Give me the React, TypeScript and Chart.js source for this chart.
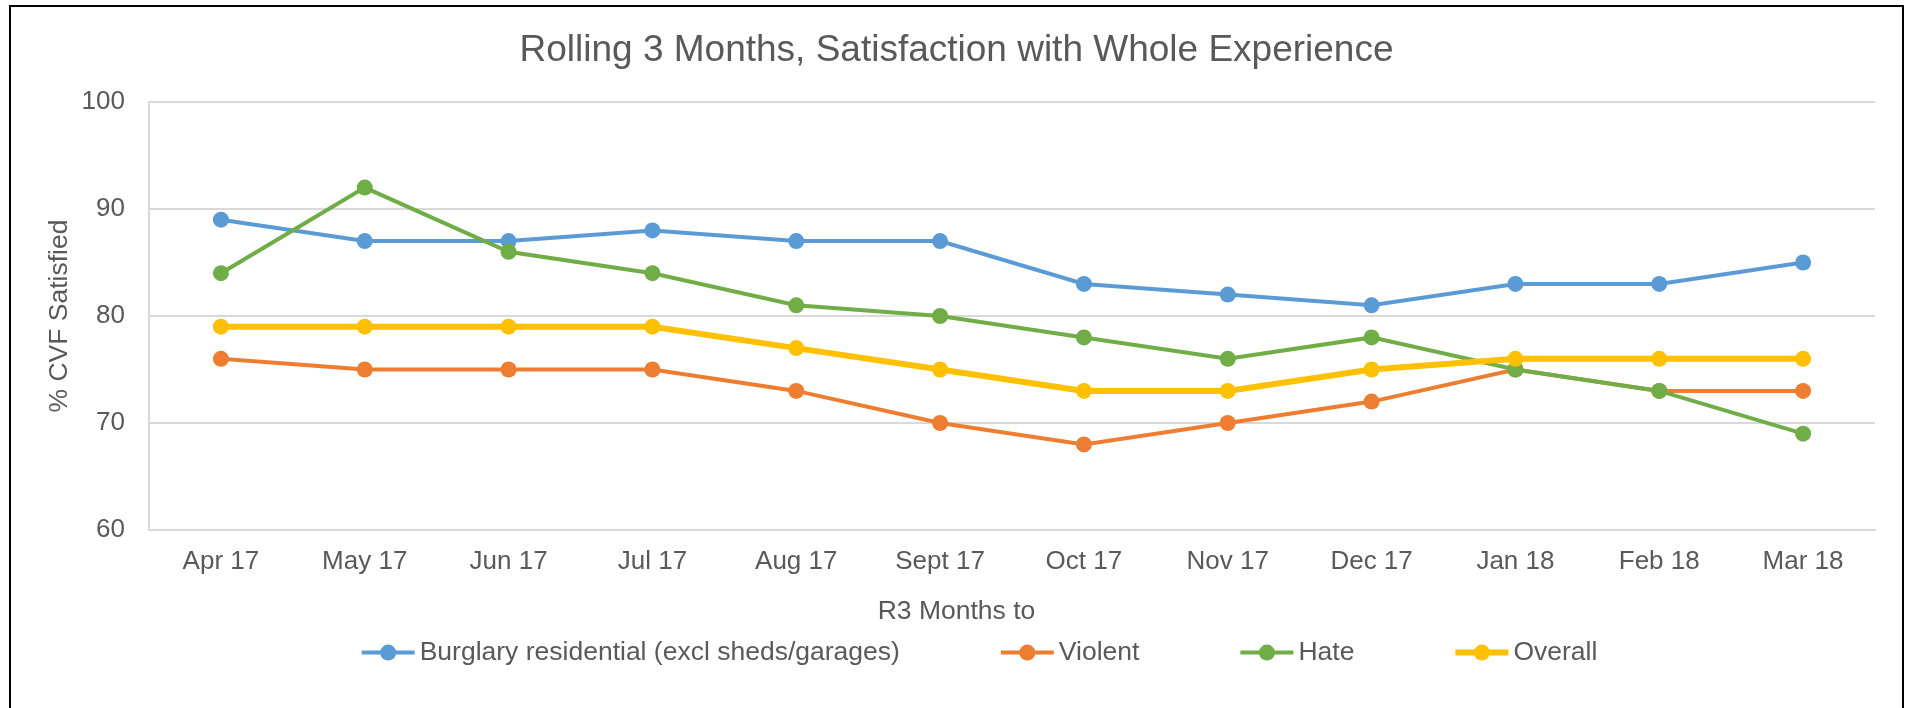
import React, { useEffect, useRef } from 'react';
import { Chart, registerables } from 'chart.js';

Chart.register(...registerables);

const months = ['Apr 17', 'May 17', 'Jun 17', 'Jul 17', 'Aug 17', 'Sept 17', 'Oct 17', 'Nov 17', 'Dec 17', 'Jan 18', 'Feb 18', 'Mar 18'];
const burglary = [89, 87, 87, 88, 87, 87, 83, 82, 81, 83, 83, 85];
const violent = [76, 75, 75, 75, 73, 70, 68, 70, 72, 75, 73, 73];
const hate = [84, 92, 86, 84, 81, 80, 78, 76, 78, 75, 73, 69];
const overall = [79, 79, 79, 79, 77, 75, 73, 73, 75, 76, 76, 76];
const seriesNames = ['Burglary residential (excl sheds/garages)', 'Violent', 'Hate', 'Overall'];
const seriesColors = ['#5B9BD5', '#ED7D31', '#70AD47', '#FFC000'];
const yTicks = [60, 70, 80, 90, 100];

const chartTitle = 'Rolling 3 Months, Satisfaction with Whole Experience';
const xTitle = 'R3 Months to';
const yTitle = '% CVF Satisfied';

const FONT = "'Liberation Sans', Arial, sans-serif";
const TEXT = '#595959';
const GRID = '#D9D9D9';

const lineLegend = {
  id: 'lineLegend',
  afterDraw(chart: any) {
    const ctx = chart.ctx;
    const ds = chart.data.datasets;
    ctx.save();
    ctx.font = `26.5px ${FONT}`;
    const lineLen = 53;
    const textGap = 5;
    const itemGap = 101;
    const widths = ds.map((d: any) => ctx.measureText(d.label).width);
    const total =
      widths.reduce((a: number, w: number) => a + lineLen + textGap + w, 0) + itemGap * (ds.length - 1);
    let x = chart.width / 2 + 23 - total / 2;
    const y = chart.scales.x.bottom + 75;
    ds.forEach((d: any, i: number) => {
      ctx.strokeStyle = d.borderColor;
      ctx.lineWidth = d.borderWidth;
      ctx.lineCap = 'butt';
      ctx.beginPath();
      ctx.moveTo(x, y);
      ctx.lineTo(x + lineLen, y);
      ctx.stroke();
      ctx.fillStyle = d.pointBackgroundColor;
      ctx.beginPath();
      ctx.arc(x + lineLen / 2, y, d.pointRadius, 0, Math.PI * 2);
      ctx.fill();
      ctx.fillStyle = TEXT;
      ctx.textBaseline = 'middle';
      ctx.textAlign = 'left';
      ctx.fillText(d.label, x + lineLen + textGap, y);
      x += lineLen + textGap + widths[i] + itemGap;
    });
    ctx.restore();
  },
};

export default function App() {
  const ref = useRef<HTMLCanvasElement | null>(null);

  useEffect(() => {
    if (!ref.current) return;
    const values = [burglary, violent, hate, overall];
    const widths = [4, 4, 4, 6];
    const radii = [8, 8, 8, 8];
    const orders = [3, 2, 1, 0];
    const chart = new Chart(ref.current, {
      type: 'line',
      data: {
        labels: months,
        datasets: values.map((v, i) => ({
          label: seriesNames[i],
          data: v,
          borderColor: seriesColors[i],
          backgroundColor: seriesColors[i],
          pointBackgroundColor: seriesColors[i],
          pointBorderColor: seriesColors[i],
          pointBorderWidth: 0,
          pointRadius: radii[i],
          borderWidth: widths[i],
          tension: 0,
          fill: false,
          order: orders[i],
          yAxisID: 'y',
        })),
      },
      options: {
        responsive: false,
        animation: false,
        maintainAspectRatio: false,
        layout: { padding: { left: 0, right: 0, top: 0, bottom: 80.6 } },
        plugins: {
          legend: { display: false },
          tooltip: { enabled: false },
          title: {
            display: true,
            text: chartTitle,
            color: TEXT,
            font: { family: FONT, size: 37, weight: 'normal' },
            padding: { top: 22, bottom: 28.6 },
          },
          subtitle: {
            display: true,
            text: xTitle,
            position: 'bottom',
            color: TEXT,
            font: { family: FONT, size: 26.5, weight: 'normal' },
            padding: { top: 18, bottom: 0 },
          },
        },
        scales: {
          x: {
            offset: true,
            afterFit: (s: any) => {
              s.height = 47.6;
            },
            grid: { display: false, drawTicks: false, tickLength: 0 },
            border: { display: true, color: GRID, width: 2 },
            ticks: {
              color: TEXT,
              font: { family: FONT, size: 26 },
              padding: 16.4,
              maxRotation: 0,
              autoSkip: false,
            },
          },
          y: {
            min: 60,
            max: 100,
            afterBuildTicks: (s: any) => {
              s.ticks = yTicks.map((v) => ({ value: v }));
            },
            afterFit: (s: any) => {
              s.width = 138;
            },
            grid: { color: GRID, lineWidth: 2, drawTicks: false, tickLength: 0 },
            border: { display: true, color: GRID, width: 2 },
            ticks: {
              color: TEXT,
              font: { family: FONT, size: 26 },
              padding: 24,
            },
            title: {
              display: true,
              text: yTitle,
              color: TEXT,
              font: { family: FONT, size: 26.5, weight: 'normal' },
              padding: { top: 33.1, bottom: 0 },
            },
          },
          yRight: {
            position: 'right',
            display: true,
            afterFit: (s: any) => {
              s.width = 27;
            },
            grid: { display: false, drawOnChartArea: false, drawTicks: false },
            border: { display: false },
            ticks: { display: false },
          },
        },
      },
      plugins: [lineLegend],
    });
    return () => chart.destroy();
  }, []);

  return (
    <div
      style={{
        position: 'fixed',
        left: 0,
        top: 0,
        width: 1910,
        height: 708,
        overflow: 'hidden',
        background: '#fff',
      }}
    >
      <div
        style={{
          position: 'absolute',
          left: 9,
          top: 5,
          width: 1895,
          height: 720,
          border: '2px solid #000',
          boxSizing: 'border-box',
          background: '#fff',
        }}
      >
        <canvas ref={ref} width={1891} height={701} style={{ display: 'block', width: 1891, height: 701 }} />
      </div>
    </div>
  );
}
